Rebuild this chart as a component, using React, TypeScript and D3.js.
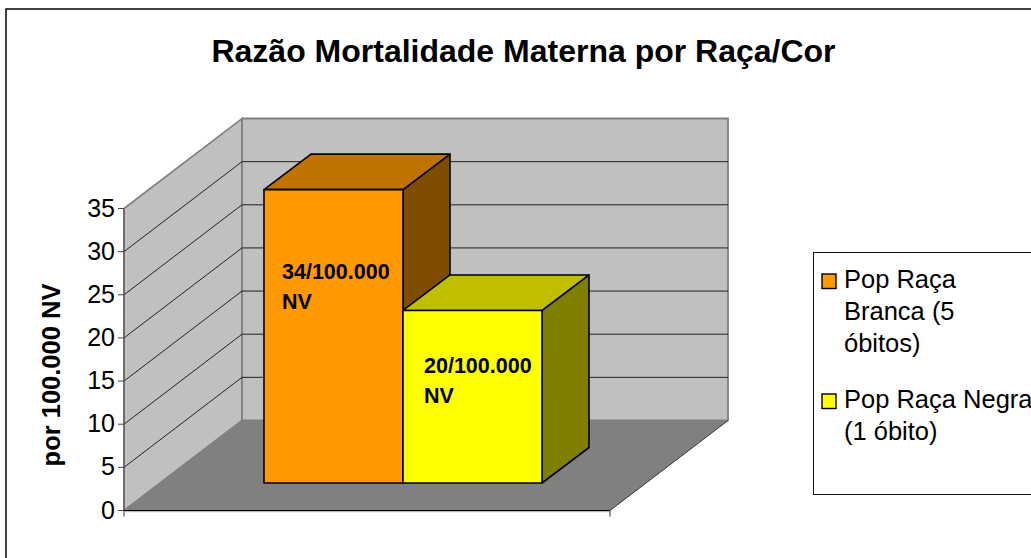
import React from "react";
import * as d3 from "d3";

const seriesNames = ["Pop Raça Branca (5 óbitos)", "Pop Raça Negra (1 óbito)"];
const seriesValues = [34, 20];
const barLabels = [["34/100.000", "NV"], ["20/100.000", "NV"]];
const legendLines = [["Pop Raça", "Branca (5", "óbitos)"], ["Pop Raça Negra", "(1 óbito)"]];
const frontColors = ["#ff9900", "#ffff00"];
const topColors = ["#bf7300", "#bfbf00"];
const sideColors = ["#804d00", "#808000"];
const yTicks = [0, 5, 10, 15, 20, 25, 30, 35];
const FONT = "'Liberation Sans', Arial, sans-serif";

const W = 1031, H = 558;
const y = d3.scaleLinear().domain([0, 35]).range([510.5, 208.5]);
const x = d3.scaleBand<string>().domain(seriesNames).range([264, 542]);
const floorLeft = 124, floorRight = 610;
const depthX = 118, depthY = -90;
const barBase = 483;
const barDX = 47, barDY = -35.5;

const poly = (pts: [number, number][]) => pts.map(p => p.join(",")).join(" ");

export default function App() {
  React.useEffect(() => {
    document.body.style.margin = "0";
  }, []);
  return (
    <svg width={W} height={H} style={{ display: "block", position: "absolute", left: 0, top: 0 }} fontFamily={FONT}>
      <rect x={0} y={0} width={W} height={H} fill="#fff" />
      <rect x={6} y={9} width={1040} height={600} fill="#fff" stroke="#111" strokeWidth={1.6} />
      <text x={523.5} y={61.5} fontSize={32} fontWeight="bold" textAnchor="middle">Razão Mortalidade Materna por Raça/Cor</text>

      {/* walls and floor */}
      <polygon points={poly([[floorLeft, y(35)], [floorLeft + depthX, y(35) + depthY], [floorLeft + depthX, y(0) + depthY], [floorLeft, y(0)]])} fill="#c0c0c0" stroke="#808080" strokeWidth={1.6} />
      <polygon points={poly([[floorLeft + depthX, y(35) + depthY], [floorRight + depthX, y(35) + depthY], [floorRight + depthX, y(0) + depthY], [floorLeft + depthX, y(0) + depthY]])} fill="#c0c0c0" stroke="#808080" strokeWidth={1.8} />
      <polygon points={poly([[floorLeft, y(0)], [floorLeft + depthX, y(0) + depthY], [floorRight + depthX, y(0) + depthY], [floorRight, y(0)]])} fill="#808080" />
      <line x1={floorRight} y1={y(0)} x2={floorRight + depthX} y2={y(0) + depthY} stroke="#333" strokeWidth={1} />

      {/* gridlines */}
      {yTicks.filter(t => t > 0 && t < 35).map(t => (
        <polyline key={t} points={poly([[floorLeft, y(t)], [floorLeft + depthX, y(t) + depthY], [floorRight + depthX, y(t) + depthY]])} fill="none" stroke="#222" strokeWidth={1} />
      ))}

      {/* axes */}
      <line x1={floorLeft} y1={y(35)} x2={floorLeft} y2={y(0) + 6} stroke="#555" strokeWidth={1.2} />
      <line x1={floorLeft} y1={y(0)} x2={floorRight} y2={y(0)} stroke="#000" strokeWidth={1} />
      <line x1={floorLeft} y1={y(0) + 1.2} x2={floorRight} y2={y(0) + 1.2} stroke="#aaa" strokeWidth={1} />
      <line x1={floorRight} y1={y(0)} x2={floorRight} y2={y(0) + 6} stroke="#555" strokeWidth={1.2} />
      {yTicks.map(t => (
        <g key={t}>
          <line x1={floorLeft - 6} y1={y(t)} x2={floorLeft} y2={y(t)} stroke="#444" strokeWidth={1} />
          <text x={floorLeft - 9} y={y(t) + 8} fontSize={25} textAnchor="end">{t}</text>
        </g>
      ))}
      <text transform="translate(60,375) rotate(-90)" fontSize={25.5} fontWeight="bold" textAnchor="middle">por 100.000 NV</text>

      {/* bars */}
      {seriesNames.map((name, i) => {
        const x0 = x(name) as number;
        const x1 = x0 + x.bandwidth();
        const top = barBase - (y(0) - y(seriesValues[i]));
        return (
          <g key={name} stroke="#000" strokeWidth={1.6} strokeLinejoin="round">
            <polygon points={poly([[x1, top], [x1 + barDX, top + barDY], [x1 + barDX, barBase + barDY], [x1, barBase]])} fill={sideColors[i]} />
            <polygon points={poly([[x0, top], [x0 + barDX, top + barDY], [x1 + barDX, top + barDY], [x1, top]])} fill={topColors[i]} />
            <rect x={x0} y={top} width={x.bandwidth()} height={barBase - top} fill={frontColors[i]} />
          </g>
        );
      })}
      {barLabels.map((lines, i) => {
        const x0 = x(seriesNames[i]) as number;
        const tx = i === 0 ? x0 + 18 : x0 + 21;
        const ty = i === 0 ? 279 : 373;
        return lines.map((l, j) => (
          <text key={l + j} x={tx} y={ty + j * 30} fontSize={21.5} fontWeight="bold">{l}</text>
        ));
      })}

      {/* legend */}
      <rect x={813.5} y={252.5} width={240} height={242} fill="#fff" stroke="#111" strokeWidth={1} />
      {legendLines.map((lines, i) => {
        const ly = [282, 402][i];
        return (
          <g key={i}>
            <rect x={822} y={ly - 8} width={14} height={14.5} fill={frontColors[i]} stroke="#000" strokeWidth={1.4} />
            {lines.map((l, j) => (
              <text key={l} x={844} y={ly + 5.5 + j * 32} fontSize={25.5}>{l}</text>
            ))}
          </g>
        );
      })}
    </svg>
  );
}
